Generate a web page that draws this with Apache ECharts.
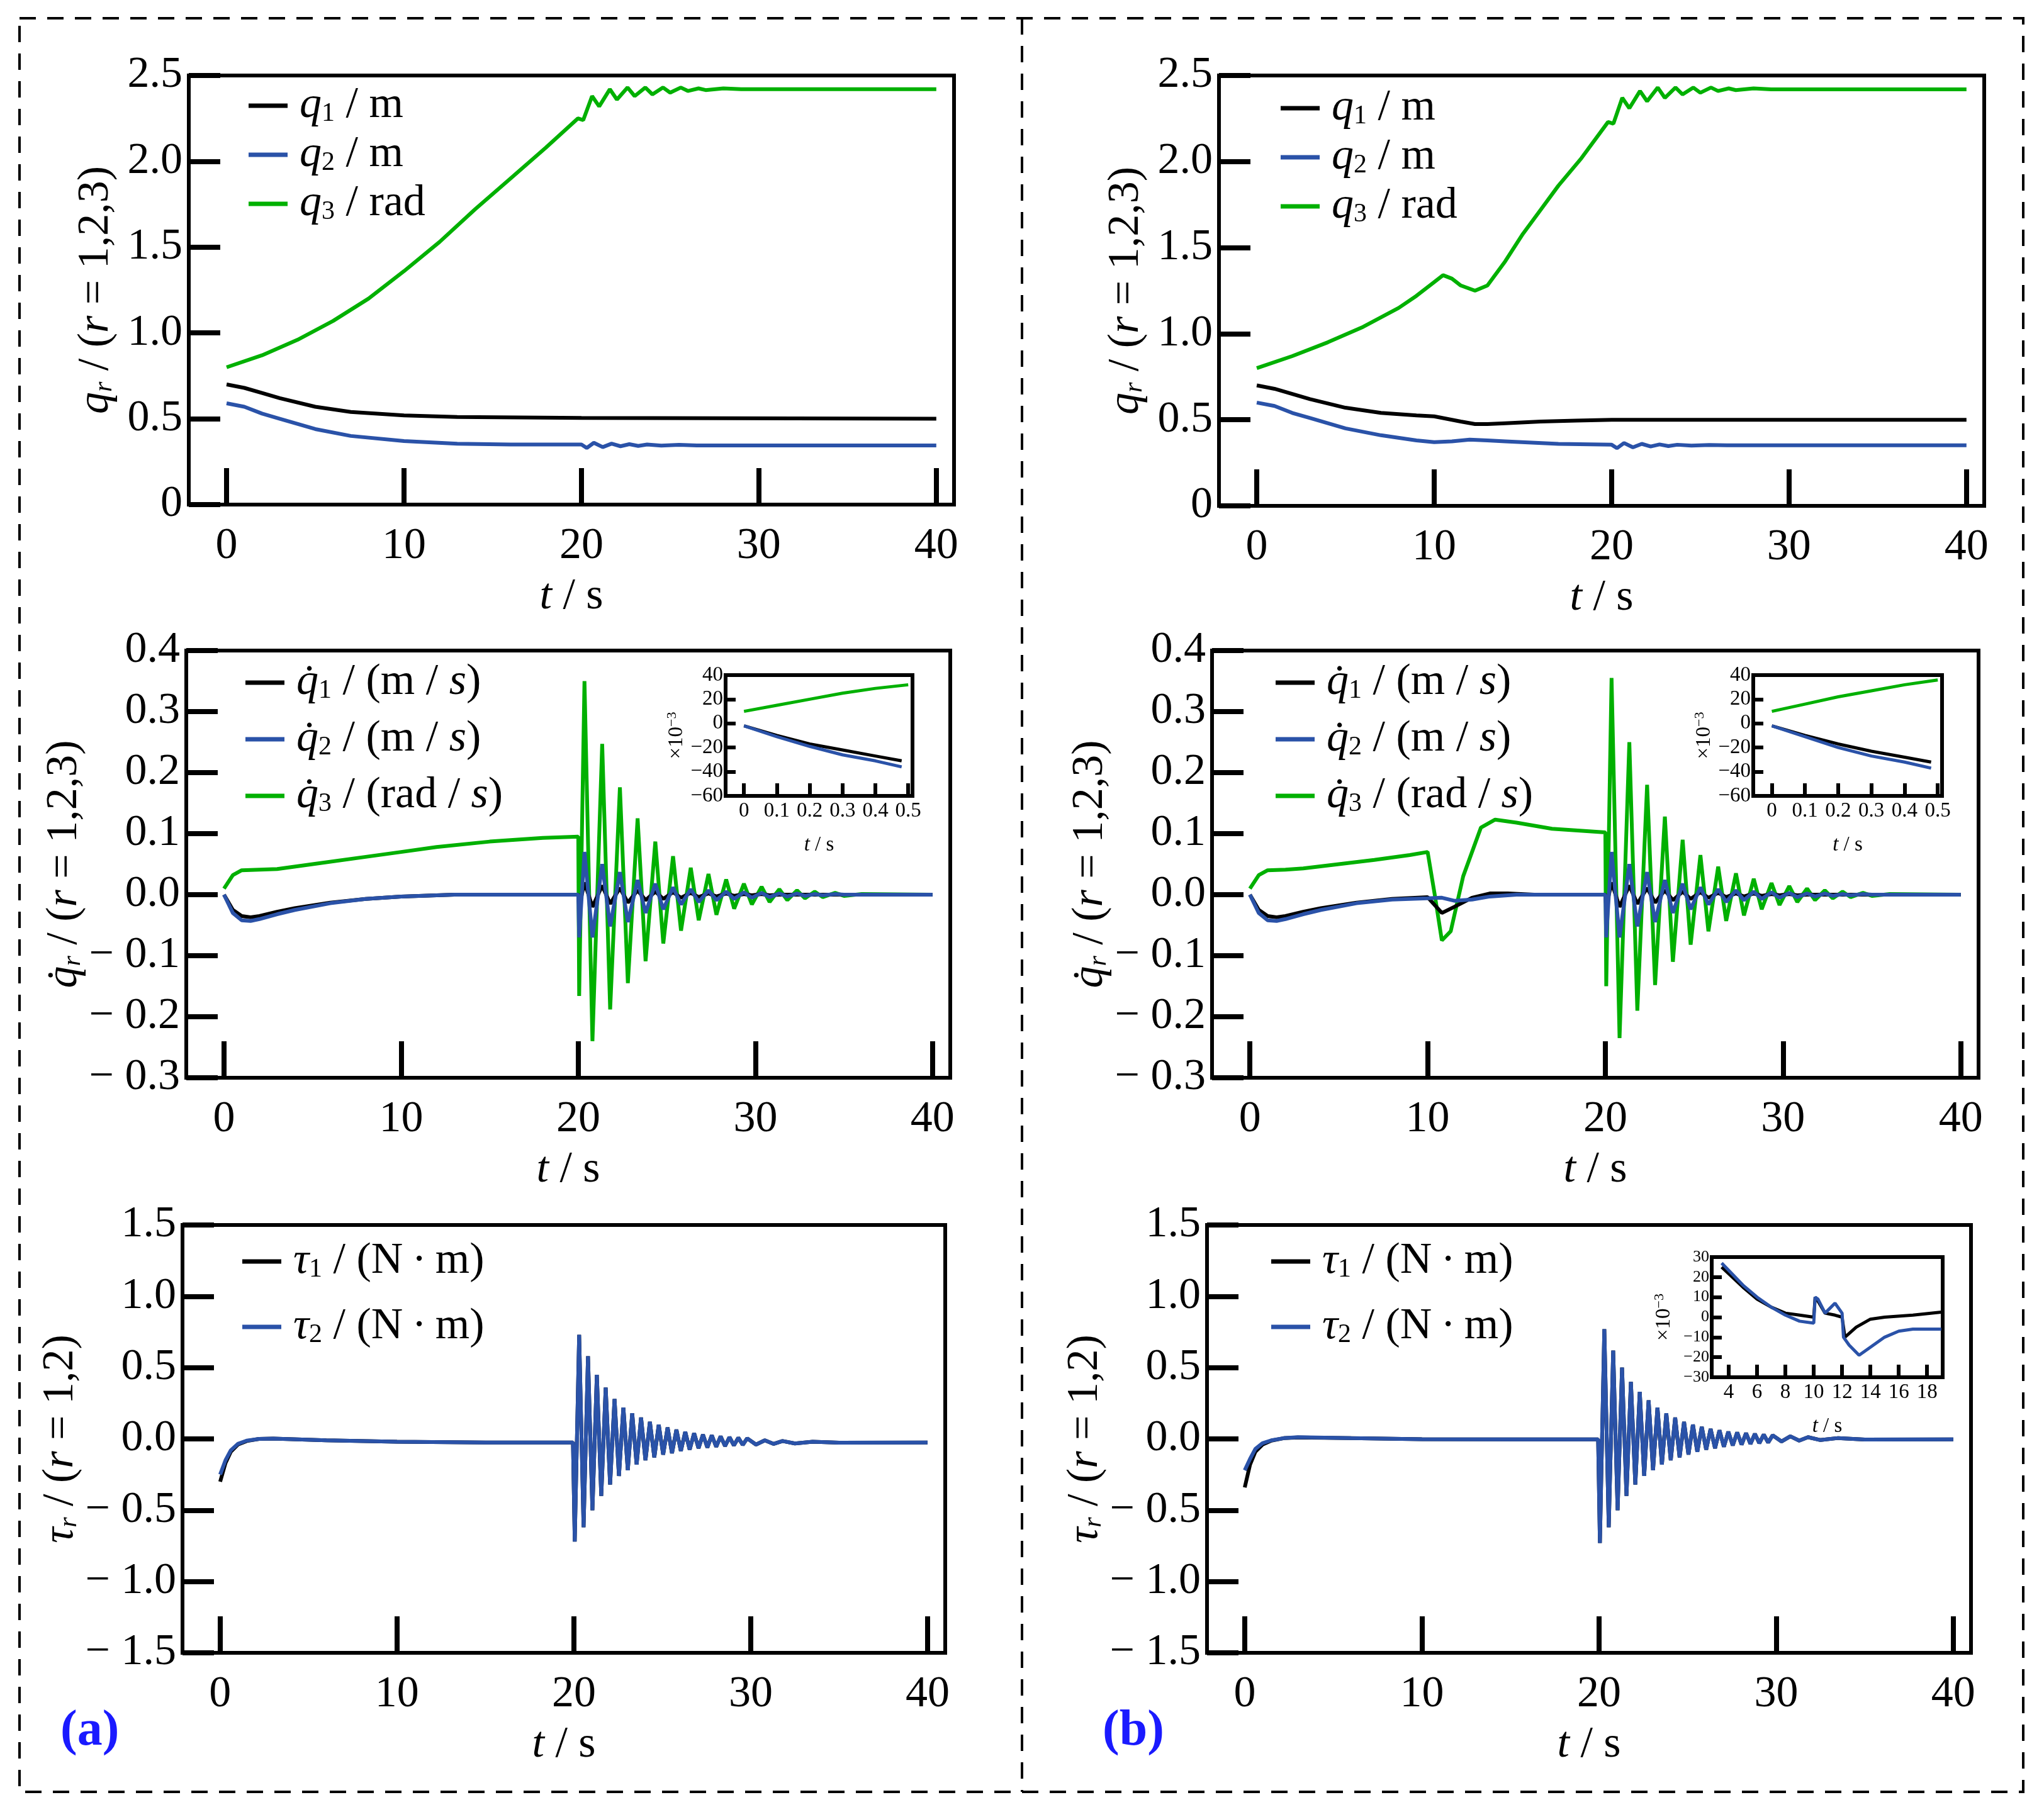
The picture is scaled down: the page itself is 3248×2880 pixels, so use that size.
<!DOCTYPE html>
<html><head><meta charset="utf-8">
<script src="https://cdn.jsdelivr.net/npm/echarts@6/dist/echarts.min.js"></script>
<style>html,body{margin:0;padding:0;background:#fff}#c{width:3248px;height:2880px}</style>
</head><body><div id="c"></div>
<script>
// ---------- DATA ----------
const xTicks = [0, 10, 20, 30, 40];
const qTicks = [0, 0.5, 1.0, 1.5, 2.0, 2.5];
const qdTicks = [-0.3, -0.2, -0.1, 0.0, 0.1, 0.2, 0.3, 0.4];
const tauTicks = [-1.5, -1.0, -0.5, 0.0, 0.5, 1.0, 1.5];
const inXTicks = [0, 0.1, 0.2, 0.3, 0.4, 0.5];
const inYTicks = [-60, -40, -20, 0, 20, 40];
const tinXTicks = [4, 6, 8, 10, 12, 14, 16, 18];
const tinYTicks = [-30, -20, -10, 0, 10, 20, 30];

// (a) positions
const aQ1_t = [0,1,2,3,5,7,10,13,20,40];
const aQ1_v = [0.70,0.68,0.65,0.62,0.57,0.54,0.52,0.51,0.505,0.50];
const aQ2_t = [0,1,2,3,5,7,10,13,16,20,20.3,20.7,21.2,21.7,22.2,22.7,23.2,23.7,24.5,25.5,26.5,40];
const aQ2_v = [0.59,0.57,0.53,0.50,0.44,0.40,0.37,0.355,0.35,0.35,0.33,0.36,0.335,0.355,0.34,0.352,0.342,0.35,0.344,0.348,0.345,0.345];
const aQ3_t = [0,2,4,6,8,10,12,14,16,18,19.8,20.1,20.6,21.0,21.6,22.0,22.6,23.0,23.6,24.0,24.6,25.0,25.6,26.0,26.6,27.0,28,29,40];
const aQ3_v = [0.80,0.87,0.96,1.07,1.20,1.36,1.53,1.72,1.90,2.08,2.25,2.24,2.38,2.32,2.42,2.36,2.43,2.38,2.43,2.39,2.43,2.40,2.43,2.41,2.425,2.415,2.425,2.42,2.42];
// (b) positions
const bQ1_t = [0,1,2,3,5,7,9,10,10.5,11.5,12.3,13,14,16,18,20,40];
const bQ1_v = [0.70,0.68,0.65,0.62,0.57,0.54,0.525,0.52,0.51,0.49,0.475,0.475,0.48,0.49,0.495,0.50,0.50];
const bQ2_t = [0,1,2,3,5,7,9,10,11,12,13,14,17,20,20.3,20.7,21.2,21.7,22.2,22.7,23.2,23.7,24.5,25.5,26.5,40];
const bQ2_v = [0.60,0.58,0.54,0.51,0.45,0.41,0.38,0.37,0.375,0.385,0.38,0.375,0.36,0.355,0.335,0.365,0.34,0.36,0.345,0.357,0.347,0.355,0.35,0.354,0.352,0.352];
const bQ3_t = [0,2,4,6,8,9,10,10.5,11,11.5,12.3,13,14,15,16,17,18.3,19.8,20.1,20.6,21.0,21.6,22.0,22.6,23.0,23.6,24.0,24.6,25.0,25.6,26.0,26.6,27.0,28,29,40];
const bQ3_v = [0.80,0.87,0.95,1.04,1.15,1.22,1.30,1.34,1.32,1.28,1.25,1.28,1.42,1.58,1.72,1.86,2.02,2.23,2.22,2.37,2.31,2.41,2.35,2.43,2.37,2.43,2.39,2.43,2.40,2.43,2.41,2.425,2.415,2.425,2.42,2.42];

// (a) velocities
const aQd_t0 = [0,0.5,1,1.5,2,3,4,6,8,10,13,20];
const aQd1_v0 = [0,-0.025,-0.035,-0.037,-0.035,-0.028,-0.022,-0.013,-0.007,-0.003,0,0];
const aQd2_v0 = [0,-0.03,-0.042,-0.043,-0.04,-0.032,-0.025,-0.014,-0.007,-0.003,0,0];
const aQd3_t0 = [0,0.5,1,2,3,5,8,10,12,15,18,20];
const aQd3_v0 = [0.01,0.032,0.04,0.041,0.042,0.05,0.062,0.07,0.078,0.087,0.093,0.095];
const oscT = [20.05,20.35,20.8,21.35,21.8,22.35,22.8,23.35,23.8,24.35,24.8,25.35,25.8,26.35,26.8,27.35,27.8,28.35,28.8,29.35,29.8,30.35,30.8,31.35,31.8,32.35,32.8,33.35,33.8,34.5,35,36,40];
const aQd3_osc = [-0.166,0.35,-0.24,0.247,-0.188,0.176,-0.145,0.125,-0.109,0.087,-0.08,0.063,-0.059,0.044,-0.042,0.034,-0.033,0.025,-0.023,0.018,-0.016,0.013,-0.012,0.009,-0.009,0.007,-0.006,0.005,-0.004,0.003,-0.002,0.001,0];
const aQd2_osc = [-0.07,0.07,-0.07,0.05,-0.052,0.037,-0.045,0.024,-0.03,0.018,-0.024,0.012,-0.016,0.009,-0.012,0.007,-0.009,0.005,-0.007,0.004,-0.005,0.003,-0.004,0.002,-0.003,0.002,-0.002,0.001,-0.001,0.001,0,0,0];
const aQd1_osc = [-0.02,0.02,-0.02,0.015,-0.015,0.011,-0.013,0.007,-0.009,0.005,-0.007,0.004,-0.005,0.003,-0.004,0.002,-0.003,0.002,-0.002,0.001,-0.001,0.001,-0.001,0,0,0,0,0,0,0,0,0,0];
// (b) velocities
const bQd1_t0 = [0,0.5,1,1.5,2,3,4,6,8,10,10.8,11.5,12.5,13.5,14.5,16,20];
const bQd1_v0 = [0,-0.025,-0.035,-0.037,-0.035,-0.028,-0.022,-0.013,-0.007,-0.004,-0.03,-0.02,-0.005,0.002,0.002,0,0];
const bQd2_t0 = [0,0.5,1,1.5,2,3,4,6,8,10,10.8,11.5,12.5,13.5,15,20];
const bQd2_v0 = [0,-0.03,-0.042,-0.043,-0.04,-0.032,-0.025,-0.014,-0.008,-0.006,-0.005,-0.01,-0.008,-0.003,0,0];
const bQd3_t0 = [0,0.5,1,2,3,5,7,9,10,10.4,10.8,11.3,12,13,13.8,15,17,20];
const bQd3_v0 = [0.01,0.032,0.04,0.041,0.043,0.05,0.057,0.065,0.07,0.0,-0.075,-0.06,0.03,0.11,0.123,0.118,0.108,0.102];
const bQd3_osc = [-0.15,0.355,-0.235,0.25,-0.19,0.18,-0.148,0.128,-0.11,0.09,-0.082,0.065,-0.06,0.046,-0.043,0.035,-0.034,0.026,-0.024,0.019,-0.017,0.014,-0.012,0.01,-0.009,0.007,-0.006,0.005,-0.004,0.003,-0.002,0.001,0];
const bQd2_osc = aQd2_osc;
const bQd1_osc = aQd1_osc;

// insets of velocities
const inT = [0,0.1,0.2,0.3,0.4,0.48];
const aIn1 = [-2,-10,-17,-22,-27,-31];
const aIn2 = [-2,-11,-19,-26,-31,-36];
const aIn3_t = [0,0.1,0.2,0.3,0.4,0.5];
const aIn3 = [10,15,20,25,29,32];
const bIn1 = [-2,-10,-17,-23,-28,-32];
const bIn2 = [-2,-11,-20,-27,-32,-37];
const bIn3 = [10,16,22,27,32,36];

// torques
const tau_t0 = [0,0.3,0.6,1,1.5,2.2,3,6,10,15,19.95];
const aTau1_v0 = [-0.30,-0.17,-0.09,-0.04,-0.015,0,0.002,-0.01,-0.02,-0.025,-0.025];
const aTau2_v0 = [-0.25,-0.15,-0.08,-0.035,-0.012,0,0.002,-0.01,-0.02,-0.025,-0.025];
const bTau1_v0 = [-0.34,-0.18,-0.09,-0.04,-0.012,0.005,0.01,0.005,-0.002,-0.003,-0.003];
const bTau2_v0 = [-0.22,-0.14,-0.07,-0.03,-0.01,0.005,0.012,0.005,-0.002,-0.003,-0.003];
const tauOscT = [20.05,20.3,20.55,20.8,21.05,21.3,21.55,21.8,22.05,22.3,22.55,22.8,23.05,23.3,23.55,23.8,24.05,24.3,24.55,24.8,25.05,25.3,25.55,25.8,26.05,26.3,26.55,26.8,27.05,27.3,27.55,27.8,28.05,28.3,28.55,28.8,29.05,29.3,29.55,29.8,30.3,30.8,31.3,31.8,32.5,33.5,35,40];
const aTau_osc = [-0.72,0.73,-0.62,0.58,-0.5,0.45,-0.4,0.36,-0.32,0.28,-0.26,0.22,-0.22,0.18,-0.18,0.15,-0.15,0.12,-0.13,0.1,-0.11,0.08,-0.1,0.065,-0.085,0.05,-0.075,0.04,-0.065,0.03,-0.06,0.025,-0.055,0.018,-0.05,0.012,-0.045,0.008,-0.042,0.004,-0.04,-0.01,-0.035,-0.015,-0.032,-0.02,-0.027,-0.025];
const bTau_osc = [-0.73,0.77,-0.62,0.62,-0.5,0.5,-0.4,0.4,-0.32,0.33,-0.26,0.27,-0.22,0.22,-0.18,0.18,-0.15,0.15,-0.13,0.12,-0.11,0.1,-0.09,0.085,-0.075,0.07,-0.065,0.06,-0.055,0.05,-0.045,0.045,-0.04,0.04,-0.035,0.035,-0.03,0.03,-0.025,0.025,-0.018,0.018,-0.012,0.012,-0.008,0.006,-0.004,-0.003];
// torque inset (b)
const bInT1 = [3.5,5,6,7,8,9,10,10.1,10.3,10.8,11.5,12,12.2,13,14,15,17,19];
const bInV1 = [25,15,9,5,2,1,0,10,8,2,1,0,-10,-5,-1,0,1,2.5];
const bInT2 = [3.5,5,6,7,8,9,10,10.1,10.3,10.8,11.5,12,12.1,12.5,13.2,14,15,16,17,19];
const bInV2 = [27,16,10,5,1,-2,-3,10,9,2,7,2,-10,-14,-19,-15,-10,-7,-6,-6];

// ---------- BUILD ----------
const BLACK = '#000000', BLUE = '#2a52a8', GREEN = '#00b000';
const FF = 'Liberation Serif';
const zip = (t, v) => t.map((x, i) => [x, v[i]]);
const cat = (...parts) => [].concat(...parts);

const grids = [
  {left:300, top:120, width:1216, height:682},
  {left:296, top:1034, width:1214, height:679},
  {left:290, top:1947, width:1212, height:680},
  {left:1937, top:120, width:1216, height:684},
  {left:1926, top:1034, width:1218, height:679},
  {left:1918, top:1947, width:1214, height:680},
  {left:1153, top:1073, width:297, height:192},
  {left:2786, top:1073, width:300, height:192},
  {left:2720, top:1998, width:367, height:191}
];

const FS = 70, SFS = 42, IFS = 33;
const rich = {
  i:{fontFamily:FF, fontStyle:'italic', fontSize:FS, color:'#000'},
  s:{fontFamily:FF, fontSize:SFS, color:'#000', padding:[26,0,0,0]},
  n:{fontFamily:FF, fontSize:FS, color:'#000'},
  si:{fontFamily:FF, fontStyle:'italic', fontSize:SFS, color:'#000', padding:[26,0,0,0]}
};
const irich = {
  n:{fontFamily:FF, fontSize:IFS, color:'#000'},
  i:{fontFamily:FF, fontStyle:'italic', fontSize:IFS, color:'#000'},
  sup:{fontFamily:FF, fontSize:22, color:'#000', padding:[0,0,14,0]}
};

function fmtNum(v, dec){
  if (dec === 0) return v === 0 ? '0' : v.toFixed(1);
  const s = Math.abs(v).toFixed(1);
  return v < -1e-9 ? '\u2212 ' + s : s;
}

function xAxis(gi, min, max, ticks, name, inset){
  const fs = inset ? IFS : FS;
  return {
    type:'value', gridIndex:gi, min, max,
    axisLine:{show:true, onZero:false, lineStyle:{color:'#000', width: inset?5:6}},
    axisTick:{show:true, inside:true, length: inset?20:58, lineStyle:{color:'#000', width: inset?6:8}, customValues:ticks},
    axisLabel:{show:true, customValues:ticks, showMinLabel:true, showMaxLabel:true, hideOverlap:false,
      fontFamily:FF, fontSize:fs, color:'#000', margin: inset?8:32, formatter: v => String(v)},
    splitLine:{show:false},
    name, nameLocation:'middle', nameGap: inset?62:112,
    nameTextStyle:{rich: inset?irich:rich, fontSize:fs}
  };
}
function yAxis(gi, min, max, ticks, name, dec, inset, nameGap, lfs){
  const fs = inset ? IFS : FS;
  return {
    type:'value', gridIndex:gi, min, max,
    axisLine:{show:true, onZero:false, lineStyle:{color:'#000', width: inset?5:6}},
    axisTick:{show:true, inside:true, length: inset?16:50, lineStyle:{color:'#000', width: inset?6:8}, customValues:ticks},
    axisLabel:{show:true, customValues:ticks, showMinLabel:true, showMaxLabel:true, hideOverlap:false,
      fontFamily:FF, fontSize:lfs||fs, color:'#000', margin: inset?4:10,
      formatter: v => inset ? (v<0?'\u2212'+Math.abs(v):String(v)) : fmtNum(v, dec)},
    splitLine:{show:false},
    name, nameLocation:'middle', nameGap, nameRotate:90,
    nameTextStyle:{rich: inset?irich:rich, fontSize:fs}
  };
}

const tName = '{i|t}{n| / s}';
const qName = '{i|q}{si|r}{n| / (}{i|r}{n| = 1,2,3)}';
const qdName = '{i|q̇}{si|r}{n| / (}{i|r}{n| = 1,2,3)}';
const tauName = '{i|τ}{si|r}{n| / (}{i|r}{n| = 1,2)}';
const inYName = '{n|×10}{sup|−3}';

const xAxes = [], yAxes = [];
for (let k = 0; k < 2; k++){
  xAxes.push(xAxis(3*k+0, -2.13, 41.0, xTicks, tName));
  xAxes.push(xAxis(3*k+1, -2.13, 41.0, xTicks, tName));
  xAxes.push(xAxis(3*k+2, -2.13, 41.0, xTicks, tName));
  yAxes.push(yAxis(3*k+0, 0, 2.5, qTicks, qName, 0, false, 112));
  yAxes.push(yAxis(3*k+1, -0.3, 0.4, qdTicks, qdName, 1, false, 150));
  yAxes.push(yAxis(3*k+2, -1.5, 1.5, tauTicks, tauName, 1, false, 150));
}
xAxes.push(xAxis(6, -0.056, 0.513, inXTicks, tName, true));
xAxes.push(xAxis(7, -0.056, 0.513, inXTicks, tName, true));
xAxes.push(xAxis(8, 2.8, 19.1, tinXTicks, tName, true));
yAxes.push(yAxis(6, -60, 40, inYTicks, inYName, 0, true, 60));
yAxes.push(yAxis(7, -60, 40, inYTicks, inYName, 0, true, 60));
yAxes.push(yAxis(8, -30, 30, tinYTicks, inYName, 0, true, 58, 26));

function line(name, gi, data, color, w){
  return {type:'line', name, xAxisIndex:gi, yAxisIndex:gi, data, showSymbol:false, symbol:'none',
    lineStyle:{color, width:w||6}, itemStyle:{color}, animation:false, z: 3};
}

const series = [
  line('aq1', 0, zip(aQ1_t, aQ1_v), BLACK),
  line('aq2', 0, zip(aQ2_t, aQ2_v), BLUE),
  line('aq3', 0, zip(aQ3_t, aQ3_v), GREEN),
  line('aqd3', 1, cat(zip(aQd3_t0, aQd3_v0), zip(oscT, aQd3_osc)), GREEN),
  line('aqd1', 1, cat(zip(aQd_t0, aQd1_v0), zip(oscT, aQd1_osc)), BLACK),
  line('aqd2', 1, cat(zip(aQd_t0, aQd2_v0), zip(oscT, aQd2_osc)), BLUE),
  line('at1', 2, cat(zip(tau_t0, aTau1_v0), zip(tauOscT, aTau_osc)), BLACK),
  line('at2', 2, cat(zip(tau_t0, aTau2_v0), zip(tauOscT, aTau_osc)), BLUE),
  line('bq1', 3, zip(bQ1_t, bQ1_v), BLACK),
  line('bq2', 3, zip(bQ2_t, bQ2_v), BLUE),
  line('bq3', 3, zip(bQ3_t, bQ3_v), GREEN),
  line('bqd3', 4, cat(zip(bQd3_t0, bQd3_v0), zip(oscT, bQd3_osc)), GREEN),
  line('bqd1', 4, cat(zip(bQd1_t0, bQd1_v0), zip(oscT, bQd1_osc)), BLACK),
  line('bqd2', 4, cat(zip(bQd2_t0, bQd2_v0), zip(oscT, bQd2_osc)), BLUE),
  line('bt1', 5, cat(zip(tau_t0, bTau1_v0), zip(tauOscT, bTau_osc)), BLACK),
  line('bt2', 5, cat(zip(tau_t0, bTau2_v0), zip(tauOscT, bTau_osc)), BLUE),
  line('ai3', 6, zip(aIn3_t, aIn3), GREEN, 5),
  line('ai1', 6, zip(inT, aIn1), BLACK, 5),
  line('ai2', 6, zip(inT, aIn2), BLUE, 5),
  line('bi3', 7, zip(aIn3_t, bIn3), GREEN, 5),
  line('bi1', 7, zip(inT, bIn1), BLACK, 5),
  line('bi2', 7, zip(inT, bIn2), BLUE, 5),
  line('ti1', 8, zip(bInT1, bInV1), BLACK, 5),
  line('ti2', 8, zip(bInT2, bInV2), BLUE, 5)
];

const NM = '(N\u2009·\u2009m)';
const labels = {
  aq1:'{i|q}{s|1}{n| / m}', aq2:'{i|q}{s|2}{n| / m}', aq3:'{i|q}{s|3}{n| / rad}',
  bq1:'{i|q}{s|1}{n| / m}', bq2:'{i|q}{s|2}{n| / m}', bq3:'{i|q}{s|3}{n| / rad}',
  aqd1:'{i|q̇}{s|1}{n| / (m / }{i|s}{n|)}', aqd2:'{i|q̇}{s|2}{n| / (m / }{i|s}{n|)}', aqd3:'{i|q̇}{s|3}{n| / (rad / }{i|s}{n|)}',
  bqd1:'{i|q̇}{s|1}{n| / (m / }{i|s}{n|)}', bqd2:'{i|q̇}{s|2}{n| / (m / }{i|s}{n|)}', bqd3:'{i|q̇}{s|3}{n| / (rad / }{i|s}{n|)}',
  at1:'{i|τ}{s|1}{n| / '+NM+'}', at2:'{i|τ}{s|2}{n| / '+NM+'}',
  bt1:'{i|τ}{s|1}{n| / '+NM+'}', bt2:'{i|τ}{s|2}{n| / '+NM+'}'
};
function legend(data, left, top, gap){
  return {data: data.map(n => ({name:n, icon:'rect'})), orient:'vertical', left, top, itemWidth:62, itemHeight:7,
    itemGap:gap, selectedMode:false, formatter: n => labels[n], textStyle:{rich, lineHeight:62, padding:[0,0,0,14]}};
}

const legends = [
  legend(['aq1','aq2','aq3'], 390, 128, 8),
  legend(['aqd1','aqd2','aqd3'], 385, 1045, 20),
  legend(['at1','at2'], 380, 1965, 34),
  legend(['bq1','bq2','bq3'], 2030, 132, 8),
  legend(['bqd1','bqd2','bqd3'], 2022, 1045, 20),
  legend(['bt1','bt2'], 2015, 1965, 34)
];

const chart = echarts.init(document.getElementById('c'), null, {renderer:'canvas'});
const dash = {stroke:'#000', lineWidth:4, lineDash:[26,18], fill:null};
chart.setOption({
  backgroundColor:'#fff',
  animation:false,
  grid: grids.map(g => Object.assign({containLabel:false, show:true, borderColor:'#000', borderWidth:6, backgroundColor:'transparent'}, g)),
  xAxis: xAxes, yAxis: yAxes, legend: legends, series,
  graphic: [
    {type:'rect', shape:{x:31, y:29, width:3184, height:2819}, style:dash, silent:true},
    {type:'line', shape:{x1:1624, y1:29, x2:1624, y2:2848}, style:{stroke:'#000', lineWidth:4, lineDash:[26,18]}, silent:true},
    {type:'text', left:96, top:2712, style:{text:'(a)', fill:'#1a1aff', font:'bold 80px "Liberation Serif"'}},
    {type:'text', left:1752, top:2712, style:{text:'(b)', fill:'#1a1aff', font:'bold 80px "Liberation Serif"'}}
  ]
});
</script></body></html>
